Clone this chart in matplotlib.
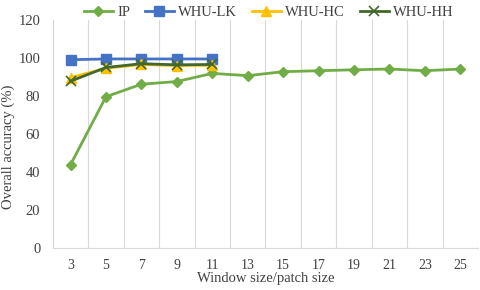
import matplotlib
matplotlib.use("Agg")
import matplotlib.pyplot as plt
import numpy as np

categories = ["3", "5", "7", "9", "11", "13", "15", "17", "19", "21", "23", "25"]
ip = [43.8, 79.6, 86.2, 87.6, 91.9, 90.7, 92.8, 93.3, 93.8, 94.2, 93.3, 94.2]
whu_lk = [99.1, 99.5, 99.5, 99.5, 99.5]
whu_hc = [89.6, 94.6, 96.6, 96.0, 96.2]
whu_hh = [87.8, 95.0, 97.0, 96.4, 96.6]
yticks = [0, 20, 40, 60, 80, 100, 120]

plt.rcParams['font.family'] = ['Liberation Serif', 'DejaVu Serif']

fig = plt.figure(figsize=(4.8, 2.9), dpi=100)
ax = fig.add_axes([0.110, 0.145, 0.886, 0.786])

x = np.arange(len(categories))
ax.plot(x, ip, color='#70AD47', lw=2, marker='D', ms=5.5, label='IP', zorder=3)
ax.plot(x[:len(whu_lk)], whu_lk, color='#4472C4', lw=2, marker='s', ms=6.5, label='WHU-LK', zorder=3)
ax.plot(x[:len(whu_hc)], whu_hc, color='#FFC000', lw=2, marker='^', ms=7, label='WHU-HC', zorder=3)
ax.plot(x[:len(whu_hh)], whu_hh, color='#43682B', lw=2, marker='x', ms=7, mew=1.2, label='WHU-HH', zorder=4)

ax.set_xlim(-0.5, len(categories) - 0.5)
ax.set_ylim(0, 120)
ax.set_xticks(x)
ax.set_xticklabels(categories, fontsize=10, color='#404040')
ax.set_yticks(yticks)
ax.set_yticklabels([str(v) for v in yticks], fontsize=10.5, color='#404040')
ax.set_xticks(np.arange(-0.5, len(categories), 1.0), minor=True)
ax.grid(True, which='minor', axis='x', color='#D9D9D9', lw=0.8)
ax.grid(False, which='major')
ax.tick_params(which='both', length=0)
ax.tick_params(axis='x', pad=8)
ax.tick_params(axis='y', pad=9)
for s in ['top', 'right', 'left']:
    ax.spines[s].set_visible(False)
ax.spines['bottom'].set_color('#D9D9D9')

ax.set_xlabel('Window size/patch size', fontsize=10.5, color='#404040', labelpad=0)
ax.set_ylabel('Overall accuracy (%)', fontsize=10.5, color='#404040')
ax.yaxis.set_label_coords(-0.088, 0.445)

fig.legend(loc='upper center', bbox_to_anchor=(0.56, 1.025), ncol=4, frameon=False,
           fontsize=10.5, handlelength=2.0, columnspacing=1.0, handletextpad=0.3,
           labelcolor='#404040')

fig.savefig('out.png', dpi=100)
